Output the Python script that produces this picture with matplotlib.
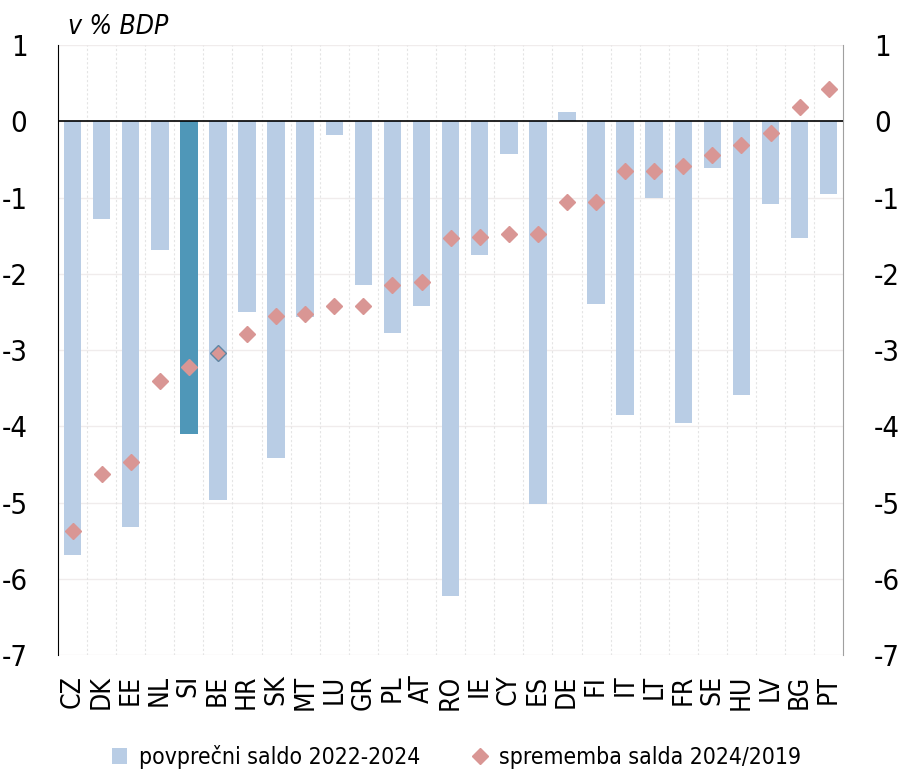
import matplotlib
matplotlib.use("Agg")
import matplotlib.pyplot as plt
import numpy as np
from matplotlib.lines import Line2D
from matplotlib.patches import Patch

plt.rcParams['font.family'] = ['DejaVu Sans']
plt.rcParams['font.stretch'] = 'condensed'

drzave = ["CZ", "DK", "EE", "NL", "SI", "BE", "HR", "SK", "MT", "LU", "GR", "PL", "AT", "RO",
          "IE", "CY", "ES", "DE", "FI", "IT", "LT", "FR", "SE", "HU", "LV", "BG", "PT"]
saldo_povp = [-5.68, -1.28, -5.32, -1.68, -4.10, -4.96, -2.50, -4.42, -2.57, -0.18, -2.14, -2.78, -2.42, -6.22,
              -1.75, -0.42, -5.02, 0.13, -2.40, -3.85, -1.01, -3.96, -0.61, -3.59, -1.08, -1.53, -0.95]
sprememba = [-5.37, -4.63, -4.47, -3.41, -3.22, -3.03, -2.79, -2.55, -2.53, -2.42, -2.42, -2.14, -2.11, -1.53,
             -1.52, -1.47, -1.47, -1.06, -1.06, -0.65, -0.65, -0.58, -0.44, -0.31, -0.15, 0.19, 0.42]
y_ticks = [1, 0, -1, -2, -3, -4, -5, -6, -7]

svetla = "#b9cde5"
temna = "#4f97b8"
roza = "#d99694"

fig = plt.figure(figsize=(8.99, 7.8), dpi=100)
ax = fig.add_axes([0.0645, 0.160, 0.8735, 0.782])

x = np.arange(len(drzave))
barve = [temna if d == "SI" else svetla for d in drzave]
ax.bar(x, saldo_povp, width=0.6, color=barve, zorder=2)

for i, d in enumerate(drzave):
    rob = "#5f86a3" if d == "BE" else roza
    ax.plot(x[i], sprememba[i], marker="D", ms=8.5, color=roza, mec=rob, mew=1.0, ls="none", zorder=3)

ax.axhline(0, color="black", lw=1.2, zorder=4)

ax.set_xlim(-0.5, len(drzave) - 0.5)
ax.set_ylim(-7, 1)
ax.set_yticks(y_ticks)
ax.set_yticklabels([str(t) for t in y_ticks])
ax.set_xticks(x)
ax.set_xticklabels(drzave, rotation=90, fontsize=19)

for yv in y_ticks:
    ax.axhline(yv, color="#f0ecec", lw=1.0, zorder=0)
for xv in np.arange(0.5, len(drzave) - 0.5, 1):
    ax.axvline(xv, color="#e4e4e4", lw=0.8, ls=(0, (2, 2)), zorder=0)

ax.tick_params(axis="y", length=0, labelsize=21, pad=22, labelright=True)
ax.tick_params(axis="x", length=0, pad=14)
ax.spines["top"].set_visible(False)
ax.spines["bottom"].set_visible(False)
ax.spines["left"].set_color("black")
ax.spines["right"].set_color("#a0a0a0")

ax.text(0.013, 1.008, "v % BDP", transform=ax.transAxes, fontsize=19, style="italic", va="bottom")

roc = [Patch(facecolor=svetla, label="povprečni saldo 2022-2024"),
       Line2D([], [], marker="D", ms=8, color=roza, ls="none", label="sprememba salda 2024/2019")]
fig.legend(handles=roc, loc="lower center", bbox_to_anchor=(0.508, -0.012), ncol=2, frameon=False,
           fontsize=16.5, columnspacing=2.3, handlelength=0.65, handletextpad=0.5)

fig.savefig("out.png", dpi=100)
